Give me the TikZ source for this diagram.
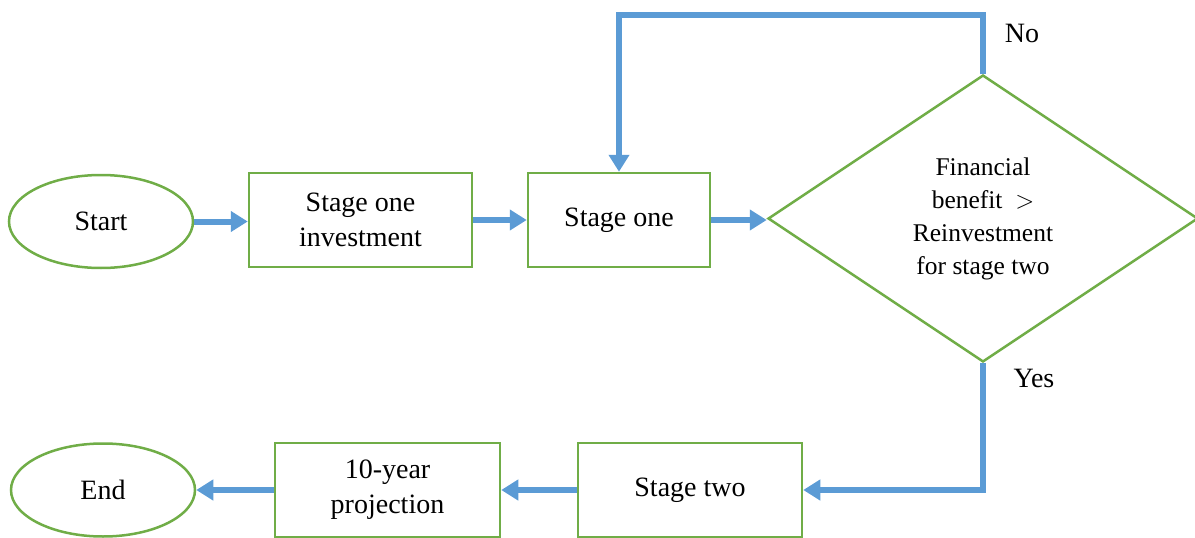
\documentclass[tikz,border=0pt]{standalone}
\usepackage{fontspec}
\setmainfont{Liberation Serif}
\usetikzlibrary{shapes.geometric,arrows.meta}
\definecolor{fgreen}{HTML}{70AD47}
\definecolor{fblue}{HTML}{5B9BD5}
\begin{document}
\begin{tikzpicture}[x=1pt,y=-1pt,
  shapebase/.style={draw=fgreen,line width=2.5pt,font=\fontsize{28}{35}\selectfont,align=center,inner sep=0pt},
  proc/.style={shapebase,rectangle,minimum height=94pt},
  term/.style={shapebase,ellipse,minimum width=184pt,minimum height=93pt},
  decision/.style={shapebase,diamond,aspect=1.5,minimum width=430pt,minimum height=287pt,font=\fontsize{25.5}{33}\selectfont},
  flow/.style={draw=fblue,line width=6pt,-{Triangle[length=17pt,width=20pt]}},
  lbl/.style={font=\fontsize{28}{30}\selectfont,inner sep=0pt}]
\useasboundingbox (0,0) rectangle (1195,538);
\node[term] (start) at (101,221.5) {Start};
\node[proc,minimum width=223pt] (s1i) at (360.5,220) {Stage one\\investment};
\node[proc,minimum width=182pt] (s1) at (619,220) {Stage one};
\node[decision] (dec) at (983,218.5) {Financial\\benefit\ \ $>$\\Reinvestment\\for stage two};
\node[proc,minimum width=224pt] (s2) at (690,490) {Stage two};
\node[proc,minimum width=225pt] (p10) at (387.5,490) {10-year\\projection};
\node[term] (end) at (103,490) {End};
\node[lbl] (no) at (1022,33) {No};
\node[lbl] (yes) at (1034,378) {Yes};
\draw[flow] (start.east) -- (start.east -| s1i.west);
\draw[flow] (s1i.east) -- (s1.west);
\draw[flow] (s1.east) -- (s1.east -| dec.west);
\draw[flow] (dec.north) -- (dec.north |- 0,15) -| (s1.north);
\draw[flow] (dec.south) |- (s2.east);
\draw[flow] (s2.west) -- (p10.east);
\draw[flow] (p10.west) -- (end.east);
\end{tikzpicture}
\end{document}
